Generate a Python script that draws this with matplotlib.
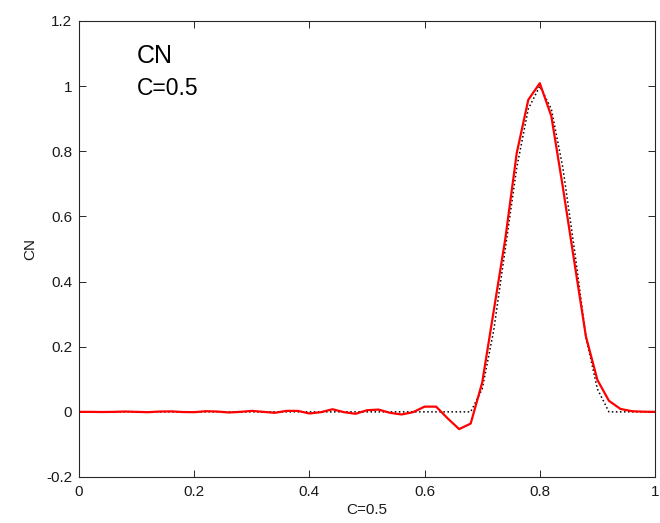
import numpy as np
import matplotlib
matplotlib.use("Agg")
import matplotlib.pyplot as plt

plt.rcParams['font.family'] = ['Liberation Sans', 'DejaVu Sans']

# grid x values (dx = 0.02)
x = np.linspace(0, 1, 51)

# numerical (CN) solution
cn = [0.0, 0.0, -0.0005, 0.0, 0.001, 0.0, -0.001, 0.001, 0.0015, -0.0005,
      -0.001, 0.002, 0.001, -0.002, 0.0, 0.003, 0.0, -0.003, 0.003, 0.003,
      -0.005, -0.001, 0.008, -0.001, -0.006, 0.005, 0.007, -0.003, -0.008, -0.001,
      0.016, 0.016, -0.02, -0.053, -0.036, 0.09, 0.31, 0.53, 0.795, 0.958,
      1.009, 0.908, 0.69, 0.46, 0.232, 0.098, 0.034, 0.009, 0.002, 0.0005,
      0.0]

# exact solution
exact = [0.0] * 35 + [0.07, 0.25, 0.50, 0.75, 0.93, 1.0, 0.93, 0.75, 0.50, 0.23, 0.07] + [0.0] * 5

xticks = [0, 0.2, 0.4, 0.6, 0.8, 1]
xticklabels = ['0', '0.2', '0.4', '0.6', '0.8', '1']
yticks = [-0.2, 0, 0.2, 0.4, 0.6, 0.8, 1, 1.2]
yticklabels = ['-0.2', '0', '0.2', '0.4', '0.6', '0.8', '1', '1.2']

fig = plt.figure(figsize=(6.6, 5.23), dpi=100)
ax = fig.add_axes([79/660, 1-477/523, (655-79)/660, (477-21)/523])

ax.plot(x, exact, 'k:', lw=1.1)
ax.plot(x, cn, color='#ff0000', lw=1.6)

ax.set_xlim(0, 1)
ax.set_ylim(-0.2, 1.2)
ax.set_xticks(xticks)
ax.set_xticklabels(xticklabels)
ax.set_yticks(yticks)
ax.set_yticklabels(yticklabels)

axcol = '#262626'
for s in ax.spines.values():
    s.set_color(axcol)
    s.set_linewidth(0.8)
ax.tick_params(direction='in', top=True, right=True, length=5, width=0.7,
               colors=axcol, labelsize=11, labelcolor='#1a1a1a')
ax.tick_params(axis='x', pad=6)
ax.tick_params(axis='y', pad=5)

ax.set_xlabel('C=0.5', fontsize=11, labelpad=3, color='#1a1a1a')
ax.set_ylabel('CN', fontsize=11, labelpad=6, color='#1a1a1a')

ax.text(0.1, 1.07, 'CN', fontsize=18, va='baseline', ha='left', color='black')
ax.text(0.1, 0.972, 'C=0.5', fontsize=16.5, va='baseline', ha='left', color='black')

fig.savefig('out.png', dpi=100)
